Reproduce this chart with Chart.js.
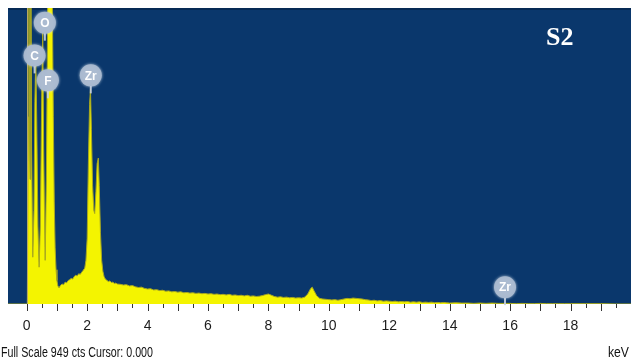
<!DOCTYPE html>
<html lang="en">
  <head>
    <meta charset="UTF-8" />
    <title>EDS spectrum S2</title>
    <script src="https://cdn.jsdelivr.net/npm/chart.js"></script>
    <style>
      html, body { margin: 0; padding: 0; background: #ffffff; }
      canvas { display: block; }
    </style>
  </head>
  <body>
    <canvas id="spectrum" width="631" height="363"></canvas>

    <script>
      // spectrum: energy (keV) and counts
      const energia = [
        -0.62, -0.02, 0.02, 0.05, 0.07, 0.09, 0.11, 0.13, 0.16, 0.2, 0.24, 0.27, 0.3, 0.33, 0.37, 0.41,
        0.45, 0.5, 0.53, 0.56, 0.61, 0.65, 0.69, 0.73, 0.77, 0.82, 0.85, 0.88, 0.91, 0.94, 0.97, 1.0,
        1.03, 1.07, 1.12, 1.17, 1.22, 1.27, 1.32, 1.37, 1.42, 1.47, 1.52, 1.57, 1.62, 1.67, 1.72, 1.77,
        1.82, 1.87, 1.92, 1.96, 2.0, 2.04, 2.08, 2.11, 2.14, 2.18, 2.22, 2.25, 2.29, 2.33, 2.37, 2.4,
        2.44, 2.48, 2.52, 2.56, 2.6, 2.65, 2.7, 2.75, 2.8, 2.85, 2.9, 2.95, 3.0,
        3.1, 3.2, 3.3, 3.4, 3.5, 3.6, 3.7, 3.8, 3.9, 4.0, 4.1, 4.2, 4.3, 4.4, 4.5, 4.6, 4.7, 4.8, 4.9,
        5.0, 5.1, 5.2, 5.3, 5.4, 5.5, 5.6, 5.7, 5.8, 5.9, 6.0, 6.1, 6.2, 6.3, 6.4, 6.5, 6.6, 6.7, 6.8, 6.9,
        7.0, 7.1, 7.2, 7.3, 7.4, 7.5, 7.6, 7.7, 7.8, 7.9, 8.0, 8.1, 8.2, 8.3, 8.4, 8.5, 8.6, 8.7, 8.8, 8.9,
        9.0, 9.1, 9.2, 9.3, 9.4, 9.45, 9.5, 9.6, 9.7, 9.8, 9.9, 10.0, 10.1, 10.2, 10.3, 10.4, 10.5, 10.6,
        10.7, 10.8, 10.9, 11.0, 11.1, 11.2, 11.3, 11.4, 11.5, 11.6, 11.7, 11.8, 11.9, 12.0, 12.1, 12.2,
        12.3, 12.4, 12.5, 12.6, 12.7, 12.8, 12.9, 13.0, 13.1, 13.2, 13.3, 13.4, 13.5, 13.6, 13.7, 13.8,
        13.9, 14.0, 14.2, 14.4, 14.6, 14.8, 15.0, 15.2, 15.4, 15.6, 15.8, 16.0, 16.2, 16.4, 16.6, 16.8,
        17.0, 17.2, 17.4, 17.6, 17.8, 18.0, 18.5, 19.0, 19.5, 20.0
      ]
      const contagens = [
        0, 0, 0, 600, 1400, 600, 400, 1400, 500, 150, 300, 650, 790, 600, 250, 118,
        250, 700, 880, 500, 140, 400, 900, 1500, 1600, 1300, 950, 600, 330, 180, 110, 75,
        58, 52, 60, 64, 62, 70, 68, 75, 78, 82, 80, 88, 92, 90, 97, 95,
        102, 108, 115, 140, 210, 450, 640, 690, 560, 380, 300, 290, 360, 450, 468, 380,
        230, 140, 105, 88, 80, 76, 72, 74, 69, 70, 66, 67, 64,
        63, 61, 62, 58, 59, 55, 53, 54, 50, 48, 49, 45, 46, 43, 44, 41, 42, 39, 40,
        38, 39, 36, 37, 35, 36, 34, 35, 33, 34, 32, 33, 31, 32, 30, 31, 29, 31, 28, 29,
        27, 28, 26, 28, 25, 26, 24, 25, 27, 30, 32, 28, 24, 22, 23, 21, 22, 20, 21, 19,
        20, 19, 22, 32, 50, 54, 44, 26, 18, 16, 15, 14, 13, 14, 12, 14, 16, 18,
        17, 19, 18, 17, 16, 14, 13, 11, 12, 10, 11, 9, 10, 9, 8, 9,
        7, 8, 7, 8, 6, 7, 6, 7, 5, 6, 5, 6, 4, 5, 4, 5,
        4, 3, 4, 3, 3, 2, 3, 2, 3, 2, 2, 2, 1, 2, 1, 1,
        2, 1, 1, 1, 1, 1, 1, 1, 0, 0
      ]

      // element markers
      const marcadorNome = ['O', 'C', 'F', 'Zr', 'Zr']
      const marcadorKeV = [0.6, 0.26, 0.7, 2.12, 15.83]
      const marcadorCts = [902, 797, 717, 733, 54]

      const escalaCheia = 949
      const tickValores = []
      for (let v = 0; v <= 20; v += 0.5) tickValores.push(v)

      const pontos = energia.map((e, i) => ({ x: e, y: contagens[i] }))

      const fundoAzul = {
        id: 'fundoAzul',
        beforeDraw(chart) {
          const { ctx, chartArea: a } = chart
          ctx.save()
          ctx.fillStyle = '#0a376c'
          ctx.fillRect(a.left, a.top, a.right - a.left, a.bottom - a.top)
          ctx.fillStyle = '#062a55'
          ctx.fillRect(a.left, a.top, a.right - a.left, 2)
          ctx.restore()
        }
      }

      const extras = {
        id: 'extras',
        afterDatasetsDraw(chart) {
          const { ctx, chartArea: a } = chart
          const sx = chart.scales.x
          const sy = chart.scales.y

          // cursor at 0.000
          ctx.save()
          ctx.strokeStyle = '#b8a860'
          ctx.lineWidth = 1
          const cx = Math.round(sx.getPixelForValue(0)) + 0.5
          ctx.beginPath()
          ctx.moveTo(cx, a.top)
          ctx.lineTo(cx, a.bottom)
          ctx.stroke()

          // element markers
          for (let i = 0; i < marcadorNome.length; i++) {
            const px = sx.getPixelForValue(marcadorKeV[i])
            const py = sy.getPixelForValue(marcadorCts[i])
            const r = 11
            ctx.strokeStyle = 'rgba(200,210,225,0.9)'
            ctx.lineWidth = 2
            ctx.beginPath()
            ctx.moveTo(px, py + r - 1)
            ctx.lineTo(px, py + r + 7)
            ctx.stroke()
            ctx.shadowColor = 'rgba(220,230,240,0.9)'
            ctx.shadowBlur = 3
            ctx.fillStyle = 'rgba(170,185,208,0.95)'
            ctx.beginPath()
            ctx.arc(px, py, r, 0, Math.PI * 2)
            ctx.fill()
            ctx.shadowBlur = 0
            ctx.fillStyle = '#ffffff'
            ctx.font = 'bold 12px "Liberation Sans", Arial, sans-serif'
            ctx.textAlign = 'center'
            ctx.textBaseline = 'middle'
            ctx.fillText(marcadorNome[i], px, py + 1)
          }

          // sample name
          ctx.fillStyle = '#ffffff'
          ctx.font = 'bold 26px "Liberation Serif", "Times New Roman", serif'
          ctx.textAlign = 'left'
          ctx.textBaseline = 'alphabetic'
          ctx.fillText('S2', 546, 45)
          ctx.restore()
        },
        afterDraw(chart) {
          const { ctx, chartArea: a } = chart
          const sx = chart.scales.x
          ctx.save()
          // tick marks
          ctx.strokeStyle = '#333333'
          ctx.lineWidth = 1
          tickValores.forEach((v) => {
            const x = Math.round(sx.getPixelForValue(v)) + 0.5
            const len = Number.isInteger(v) ? 7 : 4
            ctx.beginPath()
            ctx.moveTo(x, a.bottom)
            ctx.lineTo(x, a.bottom + len)
            ctx.stroke()
          })
          // status line
          ctx.fillStyle = '#111111'
          ctx.font = '14px "Liberation Sans", Arial, sans-serif'
          ctx.textBaseline = 'alphabetic'
          ctx.textAlign = 'left'
          ctx.fillText('Full Scale ' + escalaCheia + ' cts Cursor: 0.000', 1, 357, 152)
          ctx.textAlign = 'right'
          ctx.fillText('keV', 629, 357, 21)
          ctx.restore()
        }
      }

      new Chart(document.getElementById('spectrum'), {
        type: 'line',
        data: {
          datasets: [
            {
              data: pontos,
              fill: 'origin',
              backgroundColor: '#f4f400',
              borderColor: '#a8a820',
              borderWidth: 1,
              pointRadius: 0,
              tension: 0
            }
          ]
        },
        options: {
          responsive: false,
          animation: false,
          devicePixelRatio: 1,
          layout: { padding: { top: 8, left: 8, right: 0, bottom: 0 } },
          plugins: { legend: { display: false }, tooltip: { enabled: false } },
          scales: {
            x: {
              type: 'linear',
              min: -0.62,
              max: 20,
              afterBuildTicks: (s) => {
                s.ticks = tickValores.map((v) => ({ value: v }))
              },
              afterFit: (s) => {
                s.height = 59
                s.paddingLeft = 0
                s.paddingRight = 0
              },
              border: { display: false },
              grid: { display: false, drawTicks: false },
              ticks: {
                autoSkip: false,
                maxRotation: 0,
                padding: 14,
                color: '#1c1c1c',
                font: { family: '"Liberation Sans", Arial, sans-serif', size: 14 },
                callback: (v) => (v % 2 === 0 && v < 20 ? String(v) : '')
              }
            },
            y: {
              display: false,
              min: 0,
              max: escalaCheia
            }
          }
        },
        plugins: [fundoAzul, extras]
      })
    </script>
  </body>
</html>
